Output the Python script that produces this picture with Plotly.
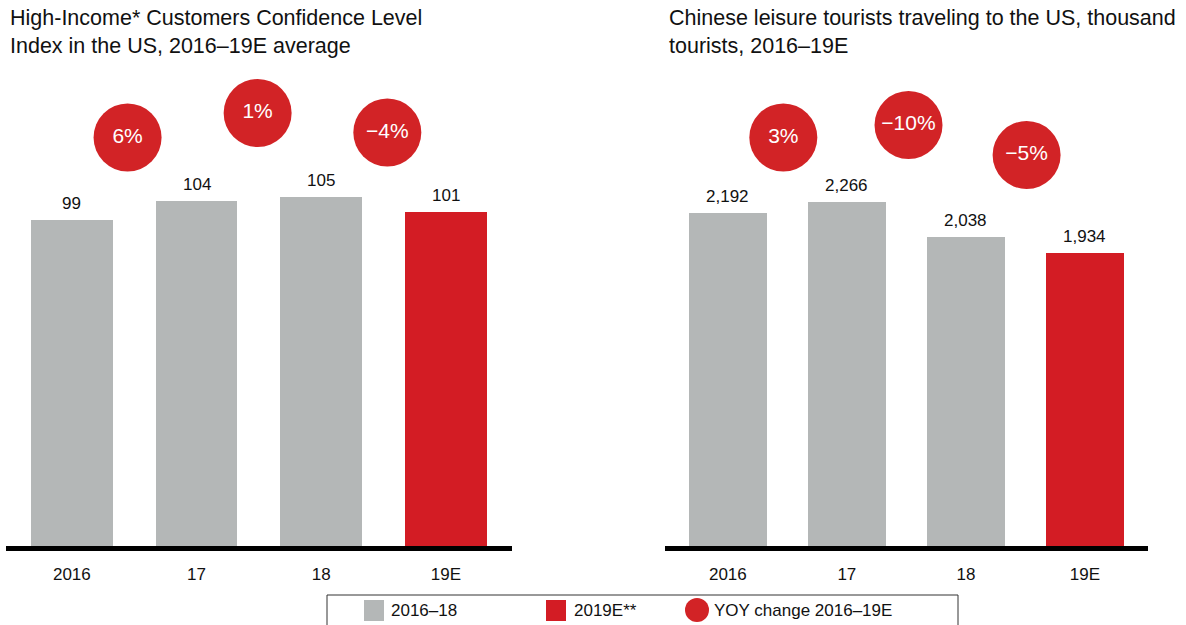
import plotly.graph_objects as go

# ---- data -------------------------------------------------------------
years = ["2016", "17", "18", "19E"]

confidence_index = [99, 104, 105, 101]
confidence_yoy = ["6%", "1%", "\u22124%"]

tourists_thousand = [2192, 2266, 2038, 1934]
tourists_yoy = ["3%", "\u221210%", "\u22125%"]

title_left = "High-Income* Customers Confidence Level<br>Index in the US, 2016\u201319E average"
title_right = "Chinese leisure tourists traveling to the US, thousand<br>tourists, 2016\u201319E"

legend_labels = ["2016\u201318", "2019E**", "YOY change 2016\u201319E"]

# ---- styling ----------------------------------------------------------
W, H = 1186, 625
GRAY = "#B4B7B7"
RED = "#D31C24"
BUBBLE_RED = "#D22326"
FONT = "Liberation Sans, Arial, Helvetica, sans-serif"

bar_colors = [GRAY, GRAY, GRAY, RED]

# plot-area geometry in pixels
ZERO_PX = 548          # pixel row of the baseline
TOP_PX = 70            # pixel row of the top of the plot area
LEFT_DOMAIN_PX = (6, 512)
RIGHT_DOMAIN_PX = (665, 1148)
X_RANGE = [-0.528, 3.53]
BAR_WIDTH = 0.655

# value axes
LEFT_BASE, LEFT_PX_PER_UNIT = 11.0, 3.733
RIGHT_BASE, RIGHT_PX_PER_UNIT = 0.0, 0.1527
plot_h = ZERO_PX - TOP_PX
left_range = [LEFT_BASE, LEFT_BASE + plot_h / LEFT_PX_PER_UNIT]
right_range = [RIGHT_BASE, RIGHT_BASE + plot_h / RIGHT_PX_PER_UNIT]

# bubble centres (pixel rows) and small horizontal nudges (x units)
LEFT_BUBBLE_PX = [137.5, 113, 132.5]
RIGHT_BUBBLE_PX = [137.5, 125, 155]
LEFT_BUBBLE_DX = [-0.053, -0.01, 0.03]
RIGHT_BUBBLE_DX = [-0.034, 0.018, 0.01]
BUBBLE_SIZE = 68


def px_to_val(py, base, ppu):
    return base + (ZERO_PX - py) / ppu


def px_x(px):
    return px / W


def px_y(py):
    return 1 - py / H


x_pos = list(range(len(years)))
mid_pos = [i + 0.5 for i in range(len(years) - 1)]

fig = go.Figure()

# ---- bars ------------------------------------------------------------
fig.add_trace(go.Bar(x=x_pos, y=confidence_index, width=BAR_WIDTH,
                     marker=dict(color=bar_colors, line=dict(width=0)),
                     xaxis="x", yaxis="y", showlegend=False, hoverinfo="skip"))
fig.add_trace(go.Bar(x=x_pos, y=tourists_thousand, width=BAR_WIDTH,
                     marker=dict(color=bar_colors, line=dict(width=0)),
                     xaxis="x2", yaxis="y2", showlegend=False, hoverinfo="skip"))

# ---- YoY bubbles -----------------------------------------------------
fig.add_trace(go.Scatter(
    x=[m + d for m, d in zip(mid_pos, LEFT_BUBBLE_DX)],
    y=[px_to_val(p, LEFT_BASE, LEFT_PX_PER_UNIT) for p in LEFT_BUBBLE_PX],
    mode="markers+text", text=confidence_yoy, textposition="middle center",
    textfont=dict(family=FONT, size=21, color="white"),
    marker=dict(size=BUBBLE_SIZE, color=BUBBLE_RED, line=dict(width=0)),
    cliponaxis=False, xaxis="x", yaxis="y", showlegend=False, hoverinfo="skip"))
fig.add_trace(go.Scatter(
    x=[m + d for m, d in zip(mid_pos, RIGHT_BUBBLE_DX)],
    y=[px_to_val(p, RIGHT_BASE, RIGHT_PX_PER_UNIT) for p in RIGHT_BUBBLE_PX],
    mode="markers+text", text=tourists_yoy, textposition="middle center",
    textfont=dict(family=FONT, size=21, color="white"),
    marker=dict(size=BUBBLE_SIZE, color=BUBBLE_RED, line=dict(width=0)),
    cliponaxis=False, xaxis="x2", yaxis="y2", showlegend=False, hoverinfo="skip"))

annotations = []

# ---- value labels above bars -----------------------------------------
for xi, v in zip(x_pos, confidence_index):
    annotations.append(dict(x=xi, y=v, xref="x", yref="y", text=f"{v:,}",
                            showarrow=False, yanchor="bottom", yshift=5,
                            font=dict(family=FONT, size=17, color="#111111")))
for xi, v in zip(x_pos, tourists_thousand):
    annotations.append(dict(x=xi, y=v, xref="x2", yref="y2", text=f"{v:,}",
                            showarrow=False, yanchor="bottom", yshift=5,
                            font=dict(family=FONT, size=17, color="#111111")))

# ---- titles ----------------------------------------------------------
annotations.append(dict(x=px_x(8), y=px_y(4), xref="paper", yref="paper",
                        text=title_left, showarrow=False, xanchor="left",
                        yanchor="top", align="left",
                        font=dict(family=FONT, size=21.5, color="#111111")))
annotations.append(dict(x=px_x(667), y=px_y(4), xref="paper", yref="paper",
                        text=title_right, showarrow=False, xanchor="left",
                        yanchor="top", align="left",
                        font=dict(family=FONT, size=21.5, color="#111111")))

# ---- baselines (paper-referenced in y so they are not clipped) --------
BASELINE_PX = 548.5
shapes = [
    dict(type="line", xref="x domain", yref="paper", x0=0, x1=1,
         y0=px_y(BASELINE_PX), y1=px_y(BASELINE_PX),
         line=dict(color="black", width=5), layer="above"),
    dict(type="line", xref="x2 domain", yref="paper", x0=0, x1=1,
         y0=px_y(BASELINE_PX), y1=px_y(BASELINE_PX),
         line=dict(color="black", width=5), layer="above"),
]

# ---- legend (drawn box) ----------------------------------------------
shapes.append(dict(type="rect", xref="paper", yref="paper",
                   x0=px_x(327), x1=px_x(958), y0=px_y(595), y1=px_y(660),
                   line=dict(color="#333333", width=1), fillcolor="rgba(0,0,0,0)"))
shapes.append(dict(type="rect", xref="paper", yref="paper",
                   x0=px_x(364), x1=px_x(384), y0=px_y(600), y1=px_y(621),
                   line=dict(width=0), fillcolor=GRAY))
shapes.append(dict(type="rect", xref="paper", yref="paper",
                   x0=px_x(546), x1=px_x(566), y0=px_y(600), y1=px_y(621),
                   line=dict(width=0), fillcolor=RED))
shapes.append(dict(type="circle", xref="paper", yref="paper",
                   x0=px_x(685), x1=px_x(709), y0=px_y(598), y1=px_y(622),
                   line=dict(width=0), fillcolor=BUBBLE_RED))
for lx, lab in zip([389, 572, 712], legend_labels):
    annotations.append(dict(x=px_x(lx), y=px_y(610.5), xref="paper", yref="paper",
                            text=lab, showarrow=False, xanchor="left",
                            yanchor="middle",
                            font=dict(family=FONT, size=17, color="#111111")))

axis_common = dict(range=X_RANGE, tickmode="array", tickvals=x_pos,
                   ticktext=years, showgrid=False, zeroline=False,
                   showline=False, ticks="", fixedrange=True,
                   ticklabelstandoff=14,
                   tickfont=dict(family=FONT, size=17, color="#111111"))
yaxis_common = dict(showgrid=False, zeroline=False, showline=False,
                    showticklabels=False, ticks="", fixedrange=True,
                    domain=[1 - ZERO_PX / H, 1 - TOP_PX / H])

fig.update_layout(
    width=W, height=H,
    margin=dict(l=0, r=0, t=0, b=0),
    paper_bgcolor="white", plot_bgcolor="white",
    font=dict(family=FONT),
    bargap=0,
    xaxis=dict(domain=[px_x(LEFT_DOMAIN_PX[0]), px_x(LEFT_DOMAIN_PX[1])],
               anchor="y", **axis_common),
    xaxis2=dict(domain=[px_x(RIGHT_DOMAIN_PX[0]), px_x(RIGHT_DOMAIN_PX[1])],
                anchor="y2", **axis_common),
    yaxis=dict(range=left_range, anchor="x", **yaxis_common),
    yaxis2=dict(range=right_range, anchor="x2", **yaxis_common),
    shapes=shapes,
    annotations=annotations,
    showlegend=False,
)

fig.write_html("out.html", config={"displayModeBar": False})
